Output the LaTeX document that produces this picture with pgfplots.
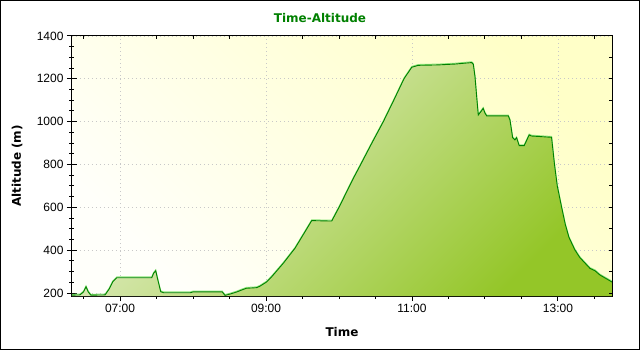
\documentclass[border=0pt]{standalone}
\usepackage{fontspec}
\setmainfont{Liberation Sans}
\newfontfamily\labfont{DejaVu Sans}
\usepackage{pgfplots}
\usepackage{pgfplotstable}
\pgfplotsset{compat=1.18}
\definecolor{lgreen}{RGB}{140,230,120}
\definecolor{dgreen}{RGB}{0,128,0}
\definecolor{fillA}{RGB}{232,240,212}
\definecolor{fillB}{RGB}{148,198,40}
\definecolor{bgA}{RGB}{255,255,200}
\definecolor{bgB}{RGB}{255,255,250}
\definecolor{gridc}{RGB}{200,200,200}

\pgfplotstableread{
x y
6.342 190
6.45 191
6.50 205
6.534 229
6.565 205
6.60 190
6.795 191
6.85 218
6.90 252
6.955 271
7.434 271
7.46 292
7.489 304
7.515 265
7.558 206
7.60 201
7.96 201
8.00 205
8.40 205
8.438 189
8.507 195
8.60 205
8.667 214
8.73 222
8.873 225
8.918 232
9.01 252
9.078 276
9.237 339
9.397 409
9.534 486
9.626 538
9.90 536
10.0 600
10.196 735
10.297 800
10.45 900
10.607 1000
10.75 1100
10.89 1200
10.996 1254
11.086 1263
11.36 1265
11.589 1269
11.818 1276
11.84 1268
11.863 1210
11.886 1117
11.908 1031
11.95 1050
11.975 1062
12.00 1040
12.023 1027
12.319 1027
12.342 1008
12.379 925
12.41 915
12.433 925
12.469 888
12.537 888
12.605 938
12.638 933
12.912 927
12.93 870
12.952 800
12.99 700
13.05 600
13.10 520
13.15 460
13.233 400
13.301 365
13.438 315
13.507 304
13.575 284
13.712 257
13.74 251
}\alt

\begin{document}
\begin{tikzpicture}
\begin{axis}[
  at={(0,0)}, anchor=south west,
  scale only axis, width=540bp, height=260bp,
  xmin=6.342, xmax=13.74, ymin=186, ymax=1400,
  axis background/.style={shade, top color=bgA, bottom color=bgB, shading angle=-45},
  axis line style={black, line width=1bp},
  xtick={7,9,11,13}, xticklabels={07:00,09:00,11:00,13:00},
  minor xtick={6.5,7.5,8,8.5,9.5,10,10.5,11.5,12,12.5,13.5},
  ytick={200,400,...,1400}, minor y tick num=3,
  tick pos=left, tick align=center,
  major tick length=10bp, minor tick length=5bp,
  tick style={black, line width=1bp},
  grid=major,
  major grid style={gridc, line width=0.9bp, dash pattern=on 0.9bp off 3.1bp},
  /pgf/number format/assume math mode=true,
  /pgf/number format/1000 sep={},
  tick label style={font=\fontsize{12bp}{14bp}\selectfont},
  xlabel={Time}, ylabel={Altitude (m)},
  every axis x label/.style={at={(axis description cs:0.5,0)}, yshift=-36bp, anchor=center, font=\labfont\bfseries\fontsize{12bp}{14bp}\selectfont},
  every axis y label/.style={at={(axis description cs:0,0.5)}, xshift=-55bp, rotate=90, anchor=center, font=\labfont\bfseries\fontsize{12bp}{14bp}\selectfont},
  clip=true,
]
\addplot[draw=none, left color=fillA, right color=fillB, shading angle=45, forget plot]
  table {\alt} -- (axis cs:13.74,186) -- (axis cs:6.342,186) -- cycle;
\addplot[draw=lgreen, line width=1bp, yshift=0.8bp, forget plot] table {\alt};
\addplot[draw=dgreen, line width=0.9bp] table {\alt};
\end{axis}
\begin{axis}[
  at={(0,0)}, anchor=south west,
  scale only axis, width=540bp, height=260bp,
  xmin=6.342, xmax=13.74, ymin=186, ymax=1400,
  axis x line*=top, axis y line*=right,
  axis line style={black, line width=1bp, -},
  xtick={6.5,7.5,8,8.5,9.5,10,10.5,11.5,12,12.5,13.5},
  ytick={200,300,...,1400},
  xticklabels={}, yticklabels={},
  tick align=inside, major tick length=3.5bp,
  tick style={black, line width=1bp},
]
\end{axis}
\node[font=\labfont\bfseries\fontsize{12bp}{14bp}\selectfont, text=dgreen] at (248bp,278bp) {Time-Altitude};
\draw[black, line width=1bp] (-71.5bp,-53.5bp) rectangle (567.5bp,295.5bp);
\end{tikzpicture}
\end{document}
